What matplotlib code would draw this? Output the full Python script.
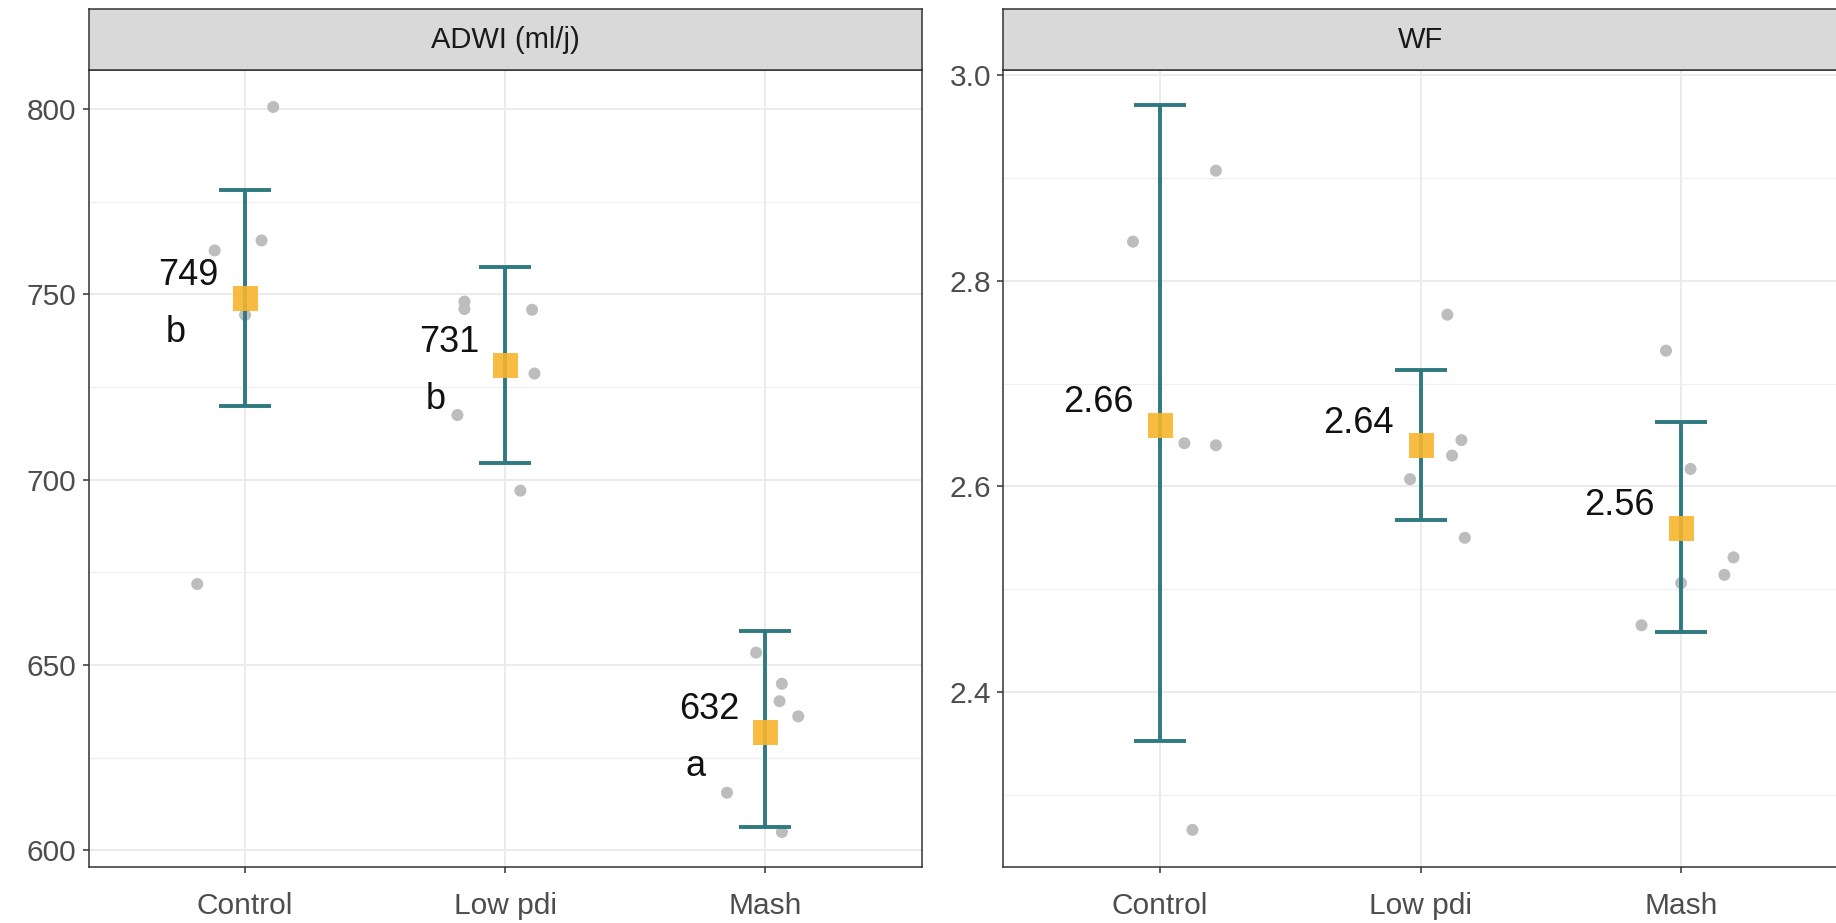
import matplotlib
matplotlib.use("Agg")
import matplotlib.pyplot as plt
from matplotlib.ticker import MultipleLocator

plt.rcParams['font.family'] = ['Liberation Sans', 'DejaVu Sans']

groups = ["Control", "Low pdi", "Mash"]

# ADWI (ml/j)
adwi_points = [
    [800.5, 764.5, 761.8, 744.4, 671.8],
    [748.0, 746.0, 745.8, 728.6, 717.4, 697.0],
    [653.3, 644.9, 640.2, 636.1, 615.5, 604.9],
]
adwi_jitter = [
    [0.108, 0.063, -0.117, 0.0, -0.184],
    [-0.157, -0.157, 0.103, 0.112, -0.184, 0.058],
    [-0.036, 0.063, 0.054, 0.126, -0.148, 0.063],
]
adwi_mean = [749, 731, 632]
adwi_low = [719.8, 704.4, 606.3]
adwi_high = [778.0, 757.2, 659.1]
adwi_letters = ["b", "b", "a"]

# WF
wf_points = [
    [2.907, 2.838, 2.642, 2.640, 2.266],
    [2.767, 2.645, 2.630, 2.607, 2.550],
    [2.732, 2.617, 2.531, 2.514, 2.506, 2.465],
]
wf_jitter = [
    [0.215, -0.103, 0.094, 0.215, 0.125],
    [0.103, 0.157, 0.121, -0.040, 0.170],
    [-0.058, 0.036, 0.201, 0.166, 0.0, -0.152],
]
wf_mean = [2.66, 2.64, 2.56]
wf_low = [2.352, 2.567, 2.458]
wf_high = [2.971, 2.713, 2.663]

TEAL = "#2F7A80"
ORANGE = "#F7B52C"
PT = "#BDBDBD"
DARK = "#333333"

W, H = 1836, 923
fig = plt.figure(figsize=(W / 100, H / 100), dpi=100)


def panel(x0, x1, title, pts, jit, mean, low, high, fmt, ylim, major, minor, letters=None):
    ax_bot, ax_top, strip_top = 866.5, 70.3, 9.4
    ax = fig.add_axes([x0 / W, 1 - ax_bot / H, (x1 - x0) / W, (ax_bot - ax_top) / H])
    st = fig.add_axes([x0 / W, 1 - ax_top / H, (x1 - x0) / W, (ax_top - strip_top) / H])
    st.set_facecolor("#D9D9D9")
    st.set_xticks([]); st.set_yticks([])
    for s in st.spines.values():
        s.set_color(DARK); s.set_linewidth(1.1)
    st.text(0.5, 0.5, title, ha="center", va="center", fontsize=21,
            color="#1A1A1A", transform=st.transAxes)

    ax.set_xlim(0.4, 3.6)
    ax.set_ylim(*ylim)
    ax.yaxis.set_major_locator(MultipleLocator(major))
    ax.yaxis.set_minor_locator(MultipleLocator(minor))
    ax.set_xticks([1, 2, 3])
    ax.set_xticklabels(groups)
    ax.grid(True, which="major", color="#EBEBEB", linewidth=1.4, zorder=0)
    ax.grid(True, which="minor", axis="y", color="#F0F0F0", linewidth=1.0, zorder=0)
    ax.set_axisbelow(True)
    for s in ax.spines.values():
        s.set_color(DARK); s.set_linewidth(1.1)
    ax.tick_params(axis="both", which="major", length=4, width=1.1, color=DARK,
                   labelsize=21.5, labelcolor="#4D4D4D")
    ax.tick_params(axis="x", pad=14)
    ax.tick_params(axis="y", pad=5)
    ax.tick_params(which="minor", length=0)

    for i in range(3):
        xs = [i + 1 + j for j in jit[i]]
        ax.scatter(xs, pts[i], s=75, color=PT, edgecolors="none", zorder=2)
        ax.errorbar([i + 1], [mean[i]], yerr=[[mean[i] - low[i]], [high[i] - mean[i]]],
                    fmt="none", ecolor=TEAL, elinewidth=2.8, capsize=18.5,
                    capthick=2.8, zorder=3)
        ax.plot([i + 1], [mean[i]], marker="s", markersize=18, color=ORANGE,
                alpha=0.9, linestyle="none", markeredgewidth=0, zorder=4)
        ax.annotate(fmt.format(mean[i]), (i + 1, mean[i]), xytext=(-19, 16),
                    textcoords="offset points", ha="right", va="center",
                    fontsize=26, color="#111111")
        if letters:
            ax.annotate(letters[i], (i + 1, mean[i]), xytext=(-50, -25),
                        textcoords="offset points", ha="center", va="center",
                        fontsize=26, color="#111111")
    return ax


panel(89, 921.6, "ADWI (ml/j)", adwi_points, adwi_jitter, adwi_mean, adwi_low,
      adwi_high, "{:d}", (595.6, 810.4), 50, 25, adwi_letters)
panel(1003.5, 1837.5, "WF", wf_points, wf_jitter, wf_mean, wf_low, wf_high,
      "{:.2f}", (2.2304, 3.0046), 0.2, 0.1)

fig.savefig("out.png", dpi=100)
